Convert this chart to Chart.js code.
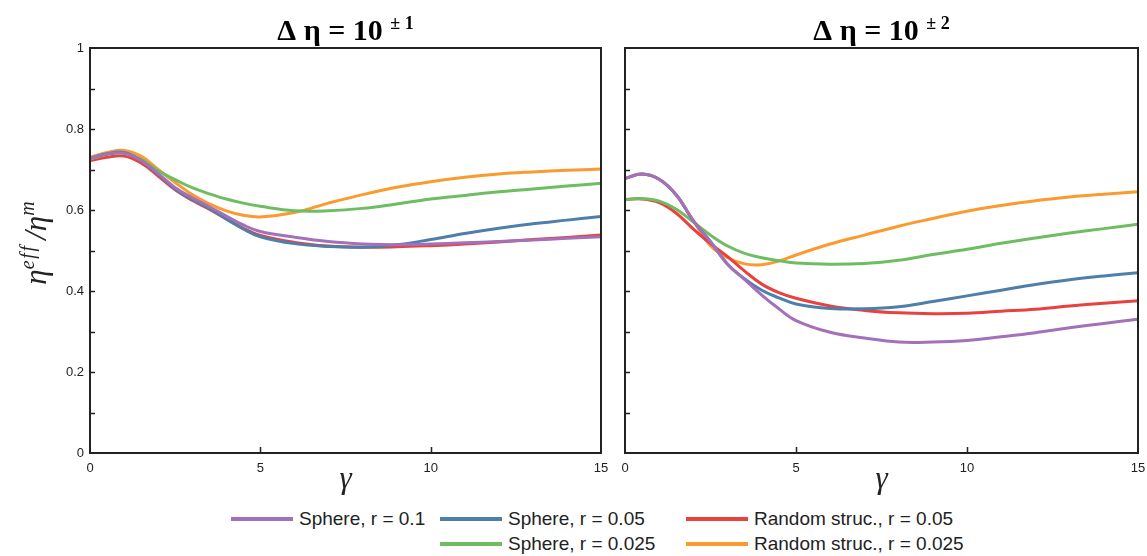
<!DOCTYPE html>
<html>
<head>
<meta charset="utf-8">
<script src="https://cdn.jsdelivr.net/npm/chart.js"></script>
<style>
  body { margin: 0; background: #fff; width: 1147px; height: 556px; position: relative; overflow: hidden; }
  .box { position: absolute; top: 0; height: 500px; }
  .leg { position: absolute; font: 19px "Liberation Sans", Arial, sans-serif; color: #222; white-space: nowrap; }
  .leg span.sw { position: absolute; left: 0; top: 10px; width: 62px; height: 4px; }
  .leg span.tx { position: absolute; left: 68px; top: 0; line-height: 24px; }
</style>
</head>
<body>
<div class="box" style="left:0;width:612px"><canvas id="left"></canvas></div>
<div class="box" style="left:612px;width:535px"><canvas id="right"></canvas></div>
<div id="legend"></div>
<script>
const gamma = [0, 0.5, 1, 1.5, 2, 2.5, 3, 3.5, 4, 4.5, 5, 6, 7, 8, 9, 10, 11, 12, 13, 14, 15];

const seriesNames = ['Sphere, r = 0.1', 'Sphere, r = 0.05', 'Sphere, r = 0.025', 'Random struc., r = 0.05', 'Random struc., r = 0.025'];
const seriesColors = ['#a470b9', '#4e7fab', '#6ebd62', '#e8413e', '#fa9a2f'];

// panel 1: delta eta = 10^{+-1}
const p1Sphere01   = [0.728, 0.738, 0.740, 0.722, 0.690, 0.655, 0.630, 0.608, 0.585, 0.563, 0.547, 0.533, 0.522, 0.516, 0.514, 0.516, 0.519, 0.522, 0.526, 0.530, 0.534];
const p1Sphere005  = [0.728, 0.739, 0.742, 0.722, 0.688, 0.652, 0.626, 0.604, 0.578, 0.553, 0.534, 0.517, 0.510, 0.508, 0.514, 0.527, 0.542, 0.555, 0.566, 0.575, 0.584];
const p1Sphere0025 = [0.726, 0.737, 0.741, 0.725, 0.697, 0.675, 0.655, 0.640, 0.627, 0.617, 0.609, 0.598, 0.598, 0.604, 0.615, 0.627, 0.636, 0.645, 0.652, 0.659, 0.666];
const p1Random005  = [0.722, 0.730, 0.733, 0.716, 0.684, 0.650, 0.624, 0.602, 0.578, 0.555, 0.537, 0.520, 0.511, 0.508, 0.509, 0.512, 0.516, 0.521, 0.527, 0.532, 0.538];
const p1Random0025 = [0.730, 0.742, 0.747, 0.733, 0.700, 0.668, 0.638, 0.615, 0.598, 0.587, 0.583, 0.594, 0.617, 0.638, 0.656, 0.670, 0.681, 0.689, 0.694, 0.698, 0.701];

// panel 2: delta eta = 10^{+-2}
const p2Sphere01   = [0.678, 0.689, 0.676, 0.637, 0.573, 0.522, 0.466, 0.428, 0.390, 0.356, 0.327, 0.298, 0.284, 0.274, 0.274, 0.278, 0.287, 0.297, 0.309, 0.320, 0.330];
const p2Sphere005  = [0.678, 0.689, 0.676, 0.637, 0.573, 0.522, 0.466, 0.430, 0.402, 0.383, 0.368, 0.357, 0.356, 0.361, 0.374, 0.388, 0.402, 0.416, 0.428, 0.437, 0.445];
const p2Sphere0025 = [0.626, 0.628, 0.622, 0.602, 0.570, 0.538, 0.511, 0.493, 0.482, 0.475, 0.469, 0.466, 0.468, 0.476, 0.490, 0.503, 0.518, 0.531, 0.543, 0.554, 0.565];
const p2Random005  = [0.626, 0.627, 0.618, 0.592, 0.553, 0.517, 0.485, 0.449, 0.417, 0.396, 0.382, 0.363, 0.352, 0.346, 0.344, 0.345, 0.350, 0.355, 0.363, 0.370, 0.376];
const p2Random0025 = [0.678, 0.689, 0.676, 0.637, 0.573, 0.512, 0.482, 0.467, 0.465, 0.474, 0.489, 0.516, 0.538, 0.560, 0.579, 0.597, 0.611, 0.623, 0.632, 0.639, 0.645];

const xTicks = [0, 5, 10, 15];
const yTicks = [0, 0.2, 0.4, 0.6, 0.8, 1];
const yMinorTicks = [0.1, 0.2, 0.3, 0.4, 0.5, 0.6, 0.7, 0.8, 0.9];
const xInnerTicks = [5, 10];

const ink = '#222';
const serif = '"Liberation Serif", "Times New Roman", serif';

function drawText(ctx, parts, x, y) {
  // parts: [text, font, raise]
  let w = 0;
  parts.forEach(p => { ctx.font = p[1]; w += ctx.measureText(p[0]).width; });
  let cx = x - w / 2;
  parts.forEach(p => {
    ctx.font = p[1];
    ctx.fillText(p[0], cx, y - p[2]);
    cx += ctx.measureText(p[0]).width;
  });
}

const framePlugin = {
  id: 'frame',
  afterDraw(chart, args, opts) {
    const ctx = chart.ctx;
    const a = chart.chartArea;
    const xs = chart.scales.x, ys = chart.scales.y;
    ctx.save();
    ctx.strokeStyle = ink;
    ctx.lineWidth = 2;
    ctx.strokeRect(a.left, a.top, a.right - a.left, a.bottom - a.top);
    ctx.lineWidth = 1.5;
    ctx.beginPath();
    yMinorTicks.forEach(v => {
      const py = Math.round(ys.getPixelForValue(v)) + 0.5;
      ctx.moveTo(a.left, py); ctx.lineTo(a.left + 5, py);
    });
    xInnerTicks.forEach(v => {
      const px = Math.round(xs.getPixelForValue(v)) + 0.5;
      ctx.moveTo(px, a.bottom); ctx.lineTo(px, a.bottom - 6);
    });
    ctx.stroke();

    ctx.fillStyle = '#000';
    ctx.textBaseline = 'alphabetic';
    const cx = (a.left + a.right) / 2;
    drawText(ctx, [
      ['\u0394 \u03b7 = 10 ', 'bold 30px ' + serif, 0],
      ['\u00b1 ' + opts.exp, 'bold 18px ' + serif, 11]
    ], cx, 40);

    ctx.fillStyle = ink;
    drawText(ctx, [['\u03b3', 'italic 31px ' + serif, 0]], cx, 488);

    if (opts.yTitle) {
      ctx.save();
      ctx.translate(46, 243);
      ctx.rotate(-Math.PI / 2);
      const big = 'italic 31px ' + serif;
      const sm = 'italic 20px ' + serif;
      drawText(ctx, [['\u03b7', big, 0], ['e\u200af\u200af', sm, 12], ['\u2009/\u03b7', big, 0], ['m', sm, 12]], 0, 0);
      ctx.restore();
    }
    ctx.restore();
  }
};

function makeDatasets(list) {
  return list.map((vals, i) => ({
    label: seriesNames[i],
    data: gamma.map((g, k) => ({ x: g, y: vals[k] })),
    borderColor: seriesColors[i],
    backgroundColor: seriesColors[i],
    borderWidth: 3,
    pointRadius: 0,
    tension: 0.4,
    fill: false
  }));
}

function makeChart(id, list, cfg) {
  return new Chart(document.getElementById(id), {
    type: 'line',
    data: { datasets: makeDatasets(list) },
    options: {
      responsive: true,
      maintainAspectRatio: false,
      animation: false,
      events: [],
      layout: { padding: { top: 48, right: cfg.padRight, left: 0, bottom: 0 } },
      plugins: {
        legend: { display: false },
        tooltip: { enabled: false },
        frame: { exp: cfg.exp, yTitle: cfg.yTitle }
      },
      scales: {
        x: {
          type: 'linear', min: 0, max: 15,
          afterBuildTicks: s => { s.ticks = xTicks.map(v => ({ value: v })); },
          afterFit: s => { s.height = 47; s.paddingLeft = 0; s.paddingRight = 0; },
          grid: { display: false, drawTicks: false },
          border: { display: false },
          ticks: { padding: 8, color: ink, font: { family: '"Liberation Sans", Arial, sans-serif', size: 13 }, maxRotation: 0 }
        },
        y: {
          type: 'linear', min: 0, max: 1,
          afterBuildTicks: s => { s.ticks = yTicks.map(v => ({ value: v })); },
          afterFit: s => { s.width = cfg.yWidth; },
          grid: { display: false, drawTicks: false },
          border: { display: false },
          ticks: {
            display: cfg.yLabels, padding: 6, color: ink,
            font: { family: '"Liberation Sans", Arial, sans-serif', size: 13 },
            callback: v => String(Math.round(v * 10) / 10)
          }
        }
      }
    },
    plugins: [framePlugin]
  });
}

makeChart('left', [p1Sphere01, p1Sphere005, p1Sphere0025, p1Random005, p1Random0025], { exp: '1', yTitle: true, yWidth: 90, yLabels: true, padRight: 11 });
makeChart('right', [p2Sphere01, p2Sphere005, p2Sphere0025, p2Random005, p2Random0025], { exp: '2', yTitle: false, yWidth: 13, yLabels: false, padRight: 9 });

// legend: order of slots follows the reference layout
const legendSlots = [[231, 507], [440, 507], [440, 532], [686, 507], [686, 532]];
const legend = document.getElementById('legend');
seriesNames.forEach((name, i) => {
  const d = document.createElement('div');
  d.className = 'leg';
  d.style.left = legendSlots[i][0] + 'px';
  d.style.top = legendSlots[i][1] + 'px';
  d.innerHTML = '<span class="sw" style="background:' + seriesColors[i] + '"></span><span class="tx"></span>';
  d.querySelector('.tx').textContent = name;
  legend.appendChild(d);
});
</script>
</body>
</html>
